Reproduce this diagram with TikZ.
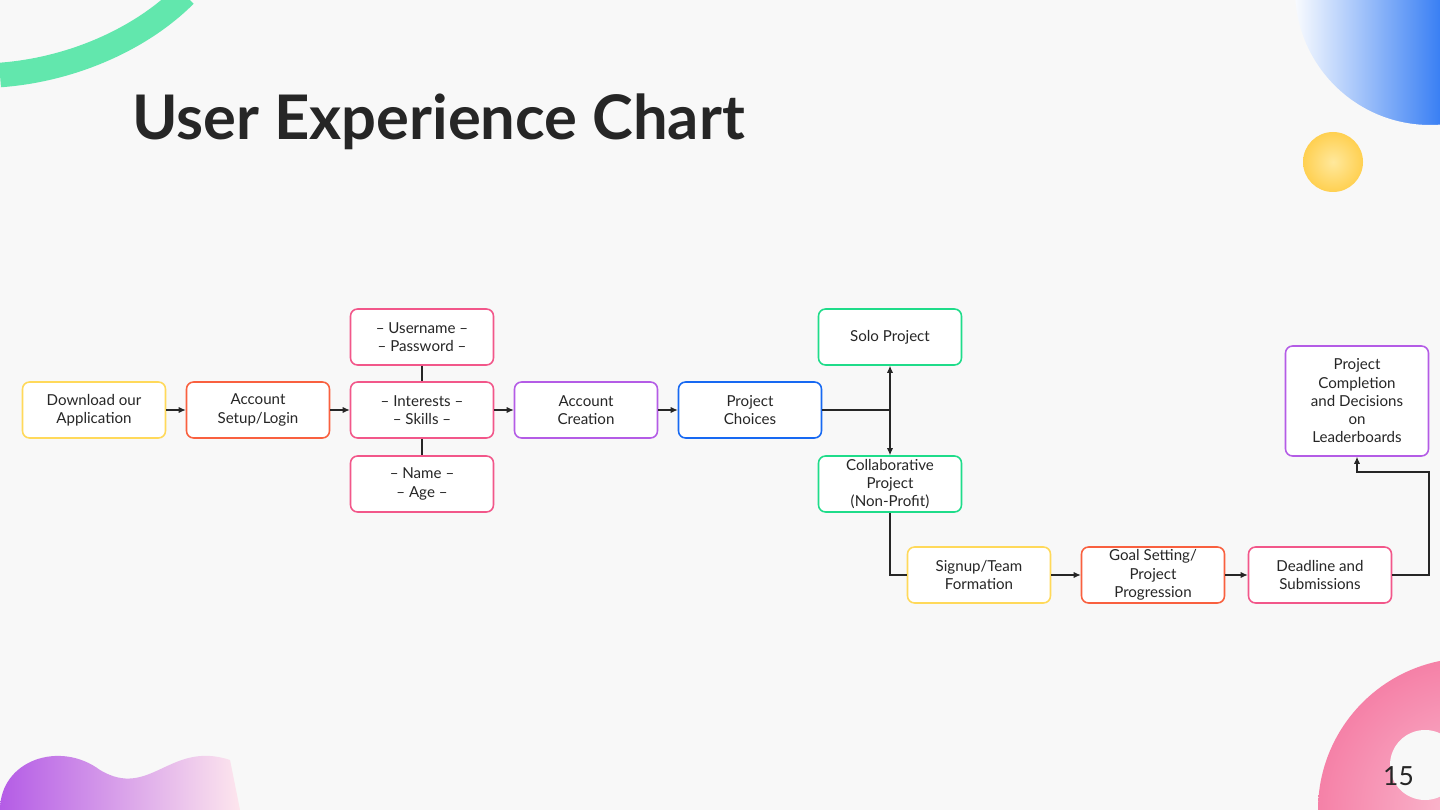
\documentclass[tikz,border=0pt]{standalone}
\usepackage{fontspec}
\setmainfont{Lato}
\usetikzlibrary{arrows.meta}
\definecolor{bg}{HTML}{F8F8F8}
\definecolor{cyel}{HTML}{FFD95A}
\definecolor{cred}{HTML}{F9603F}
\definecolor{cpink}{HTML}{F2578A}
\definecolor{cpur}{HTML}{B45CE6}
\definecolor{cblue}{HTML}{1769F2}
\definecolor{cgreen}{HTML}{1FDC8A}
\begin{document}
\begin{tikzpicture}[x=0.02cm,y=-0.02cm,
 box/.style={draw,line width=0.9pt,rounded corners=4pt,minimum width=2.86cm,minimum height=1.12cm,inner sep=1pt,align=center,font=\fontsize{8.6}{10.4}\selectfont,fill=white,text=black!85},
 arr/.style={-{Latex[length=4pt,width=3.5pt]},line width=0.6pt,black!85},
 ln/.style={line width=0.6pt,black!85}]
\fill[bg] (0,0) rectangle (1440,810);
\useasboundingbox (0,0) rectangle (1440,810);
% decorations
\begin{scope}
\clip (0,0) rectangle (1440,810);
\draw[line width=14pt,cgreen!70] (0,75) .. controls (70,70) and (140,40) .. (185,-5);
\shade[left color=white,right color=cblue!85] (1290,-30) rectangle (1440,125);
\end{scope}
\begin{scope}
\clip (1290,0) rectangle (1440,125);
\fill[bg,even odd rule] (1290,-10) rectangle (1450,135) (1430,-10) circle (135);
\end{scope}
\shade[inner color=cyel!60,outer color=cyel!90!orange] (1333,162) circle (30);
\shade[left color=cpur,right color=cpink!15] (0,810) .. controls (0,760) and (60,740) .. (100,770) .. controls (150,800) and (170,740) .. (230,760) -- (240,810) -- cycle;
\begin{scope}
\clip (0,0) rectangle (1440,810);
\shade[inner color=cpink!40,outer color=cpink!75] (1470,810) circle (152);
\fill[bg] (1425,765) circle (35);
\end{scope}
\node[anchor=base west,font=\fontsize{35}{35}\selectfont\bfseries,text=black!85] (title) at (126,140) {User Experience Chart};
\node[anchor=base east,font=\fontsize{15}{15}\selectfont,text=black!85] (pg) at (1420,785) {15};
% nodes
\node[box,draw=cyel] (dl) at (94,410) {Download our\\Application};
\node[box,draw=cred] (as) at (258,410) {Account\\Setup/Login};
\node[box,draw=cpink] (in) at (422,410) {– Interests –\\– Skills –};
\node[box,draw=cpink] (un) at (422,337) {– Username –\\– Password –};
\node[box,draw=cpink] (nm) at (422,484) {– Name –\\– Age –};
\node[box,draw=cpur] (ac) at (586,410) {Account\\Creation};
\node[box,draw=cblue] (pc) at (750,410) {Project\\Choices};
\node[box,draw=cgreen] (so) at (890,337) {Solo Project};
\node[box,draw=cgreen] (co) at (890,484) {Collaborative\\Project\\(Non-Profit)};
\node[box,draw=cyel] (su) at (979,575) {Signup/Team\\Formation};
\node[box,draw=cred] (gs) at (1153,575) {Goal Setting/\\Project\\Progression};
\node[box,draw=cpink] (dd) at (1320,575) {Deadline and\\Submissions};
\node[box,draw=cpur,minimum height=2.2cm] (pj) at (1357,401) {Project\\Completion\\and Decisions\\on\\Leaderboards};
\coordinate (j) at (890,410);
\coordinate (r1) at (1429,575);
\coordinate (r2) at (1429,472);
\coordinate (r3) at (1357,472);
% connectors
\draw[arr] (dl) -- (as);
\draw[arr] (as) -- (in);
\draw[arr] (in) -- (ac);
\draw[arr] (ac) -- (pc);
\draw[ln] (un) -- (in);
\draw[ln] (in) -- (nm);
\draw[ln] (pc) -- (j);
\draw[arr] (j) -- (so);
\draw[arr] (j) -- (co);
\draw[ln] (co.south) |- (su.west);
\draw[arr] (su) -- (gs);
\draw[arr] (gs) -- (dd);
\draw[arr] (dd.east) -- (r1) -- (r2) -- (r3) -- (pj.south);
\end{tikzpicture}
\end{document}
